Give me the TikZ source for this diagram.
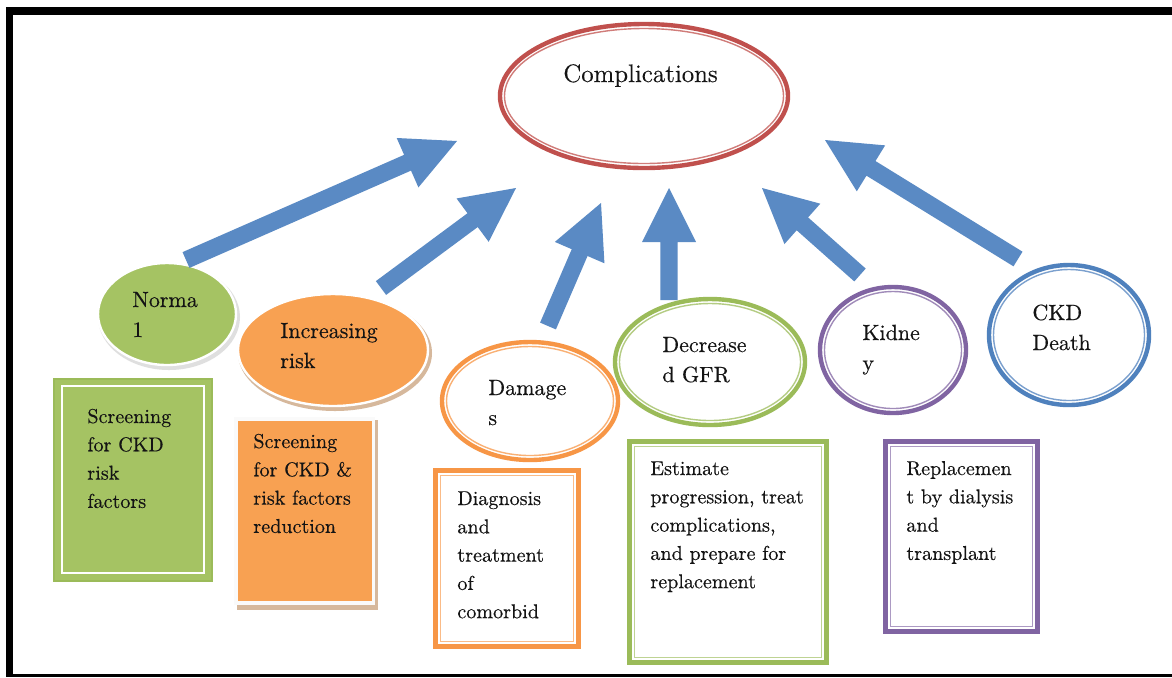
\documentclass[tikz,border=0pt]{standalone}
\usepackage{fontspec}
\setmainfont{Latin Modern Roman}[FakeBold=0.35]
\usetikzlibrary{shapes.geometric,calc}

\definecolor{cred}{HTML}{C0504D}
\definecolor{cgreen}{HTML}{9BBB59}
\definecolor{cgreenfill}{RGB}{165,195,99}
\definecolor{corange}{HTML}{F79646}
\definecolor{corangefill}{RGB}{248,161,82}
\definecolor{cpurple}{HTML}{8064A2}
\definecolor{cblue}{HTML}{4F81BD}
\definecolor{carrow}{RGB}{90,138,196}
\definecolor{ctext}{RGB}{20,20,20}
\definecolor{ctan}{RGB}{214,184,156}

\tikzset{
  eltext/.style={anchor=base west, inner sep=0, text=ctext,
                 font=\fontsize{11}{15}\selectfont},
  boxtext/.style={anchor=base west, inner sep=0, text=ctext,
                  font=\fontsize{10.05}{14.15}\selectfont},
  titletext/.style={anchor=base west, inner sep=0, text=ctext,
                    font=\fontsize{12.65}{16}\selectfont},
}

% left-aligned lines whose baseline is the first line's baseline
\newcommand\txtlines[1]{\begin{tabular}[t]{@{}l@{}}#1\end{tabular}}

% ellipse with a thick outer line and a thin inner line
% name, cx, cy, rx, ry (px), colour
\newcommand\ringellipse[6]{%
  \node[ellipse, draw=#6, line width=2.2pt, inner sep=0, outer sep=0,
        minimum width=#4pt, minimum height=#5pt] (#1) at (#2,#3) {};
  \draw[#6!75, line width=0.7pt] (#2,#3) ellipse [x radius=#4-4.5, y radius=#5-4.5];
}

% rectangle with a thick outer line and a thin inner line
% name, left, top, right, bottom (outer edges, px), colour
\newcommand\ringbox[6]{%
  \node[rectangle, draw=#6, line width=2.5pt, inner sep=0, outer sep=0,
        minimum width={(#4-#2-5)*0.5pt}, minimum height={(#5-#3-5)*0.5pt}]
        (#1) at ({(#2+#4)/2},{(#3+#5)/2}) {};
  \draw[#6!65, line width=0.75pt] ($(#1.north west)+(5,5)$) rectangle ($(#1.south east)+(-5,-5)$);
}

% block arrow from a tail coordinate to a tip coordinate
\newcommand\blockarrow[3]{%
  \coordinate (#1-base) at ($(#3)!27pt!(#2)$);
  \fill[carrow] ($(#2)!4.3pt!90:(#3)$) -- ($(#1-base)!4.3pt!90:(#3)$)
     -- ($(#1-base)!13.5pt!90:(#3)$) -- (#3)
     -- ($(#1-base)!13.5pt!-90:(#3)$) -- ($(#1-base)!4.3pt!-90:(#3)$)
     -- ($(#2)!4.3pt!-90:(#3)$) -- cycle;
}

\begin{document}
\begin{tikzpicture}[x=0.5pt, y=-0.5pt]
  \useasboundingbox (0,0) rectangle (1172,677);
  \fill[white] (0,0) rectangle (1172,677);

  % frame
  \fill[black] (6,7) rectangle (1172,15);
  \fill[black] (6,7) rectangle (13,677);
  \fill[black] (6,674) rectangle (1172,677);

  % central ellipse
  \ringellipse{comp}{644}{96}{144}{72}{cred}
  \node[titletext] (comptxt) at (563,82) {Complications};

  % stage ellipses
  \fill[gray!25] (169,317) ellipse [x radius=71, y radius=53];
  \node[ellipse, fill=cgreenfill, draw=white, line width=1.2pt, inner sep=0, outer sep=0,
        minimum width=69pt, minimum height=51pt] (normal) at (167,314) {};
  \node[eltext] (normaltxt) at (132,307) {\txtlines{Norma\\1}};

  \fill[ctan] (335,353) ellipse [x radius=97, y radius=58];
  \node[ellipse, fill=corangefill, draw=white, line width=1.2pt, inner sep=0, outer sep=0,
        minimum width=95pt, minimum height=56pt] (risk) at (333,350) {};
  \node[eltext] (risktxt) at (280,338) {\txtlines{Increasing\\risk}};

  \ringellipse{damage}{530}{401}{88}{59}{corange}
  \node[eltext] (damagetxt) at (488,395) {\txtlines{Damage\\s}};

  \ringellipse{gfr}{710}{362}{95}{63}{cgreen}
  \node[eltext] (gfrtxt) at (662,352) {\txtlines{Decrease\\d GFR}};

  \ringellipse{kidney}{893}{350}{73}{63}{cpurple}
  \node[eltext] (kidneytxt) at (862,340) {\txtlines{Kidne\\y}};

  \ringellipse{death}{1069}{335}{80}{70}{cblue}
  \node[eltext] (deathtxt) at (1032,320) {\txtlines{CKD\\Death}};

  % action boxes
  \node[rectangle, fill=cgreenfill, draw=cgreen, line width=1pt, inner sep=0, outer sep=0,
        minimum width=79pt, minimum height=101pt] (box1) at (133,480) {};
  \draw[white, line width=1pt] ($(box1.north west)+(8,7)$) rectangle ($(box1.south east)+(-8,-8)$);
  \node[boxtext] (box1txt) at (87,423) {\txtlines{Screening\\for CKD\\risk\\factors}};

  \fill[ctan] (237,420) rectangle (378,610);
  \fill[white!96!gray] (234,417) rectangle (375,605);
  \node[rectangle, fill=corangefill, inner sep=0, outer sep=0,
        minimum width=67pt, minimum height=90pt] (box2) at (305,510.5) {};
  \node[boxtext] (box2txt) at (253,448) {\txtlines{Screening\\for CKD \&\\risk factors\\reduction}};

  \ringbox{box3}{433}{468}{581}{649}{corange}
  \node[boxtext] (box3txt) at (457,505) {\txtlines{Diagnosis\\and\\treatment\\of\\comorbid}};

  \ringbox{box4}{627}{439}{829}{665}{cgreen}
  \node[boxtext] (box4txt) at (650,475) {\txtlines{Estimate\\progression, treat\\complications,\\and prepare for\\replacement}};

  \ringbox{box5}{883}{439}{1040}{634}{cpurple}
  \node[boxtext] (box5txt) at (906,475) {\txtlines{Replacemen\\t by dialysis\\and\\transplant}};

  % arrows towards the complications
  \coordinate (a1s) at (186,260);  \coordinate (a1e) at (457,141);
  \coordinate (a2s) at (381,288);  \coordinate (a2e) at (516,188);
  \coordinate (a3s) at (548,326);  \coordinate (a3e) at (601,203);
  \coordinate (a4s) at (669,300);  \coordinate (a4e) at (669,188);
  \coordinate (a5s) at (860,275);  \coordinate (a5e) at (762,188);
  \coordinate (a6s) at (1018,259); \coordinate (a6e) at (825,140);
  \blockarrow{a1}{a1s}{a1e}
  \blockarrow{a2}{a2s}{a2e}
  \blockarrow{a3}{a3s}{a3e}
  \blockarrow{a4}{a4s}{a4e}
  \blockarrow{a5}{a5s}{a5e}
  \blockarrow{a6}{a6s}{a6e}
\end{tikzpicture}
\end{document}
